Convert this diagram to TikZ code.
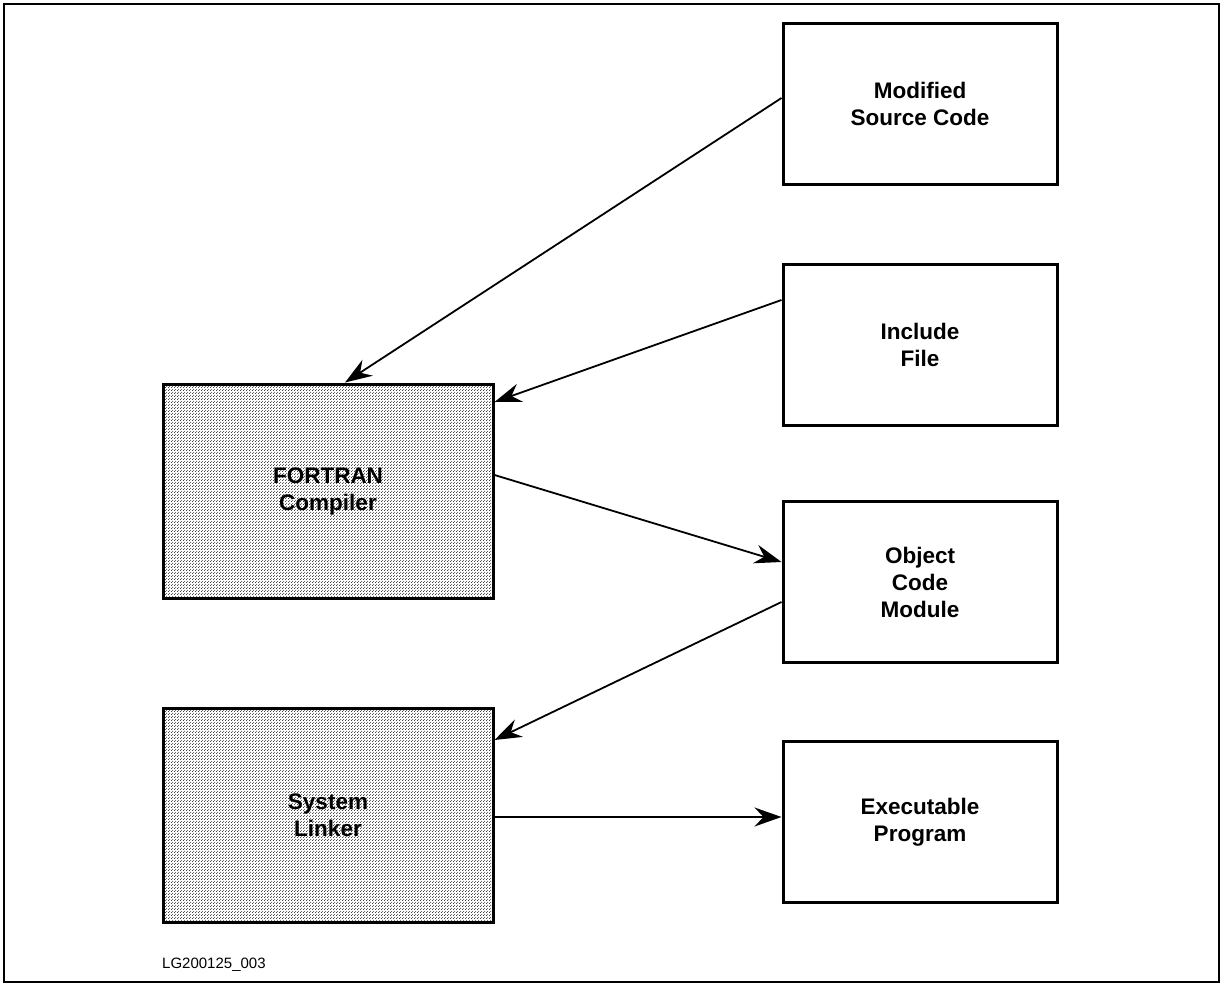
\documentclass[tikz,border=0pt]{standalone}
\usepackage{fontspec}
\setmainfont{Liberation Sans}
\usetikzlibrary{arrows.meta,patterns.meta}
% halftone-like dot screen for the shaded boxes
\tikzdeclarepattern{
  name=stipple,
  type=uncolored,
  bottom left={(0pt,0pt)},
  top right={(3pt,3pt)},
  tile size={(3pt,3pt)},
  code={
    \pgfpathcircle{\pgfpoint{0.75pt}{0.75pt}}{0.64pt}
    \pgfpathcircle{\pgfpoint{2.25pt}{2.25pt}}{0.64pt}
    \pgfusepath{fill}
  }
}
\begin{document}
\begin{tikzpicture}[x=1pt,y=-1pt,
  boxtext/.style={font=\bfseries\fontsize{22.5}{27}\selectfont,align=center,inner sep=0pt},
  filebox/.style={boxtext,draw=black,line width=3pt,fill=white,minimum width=274pt,minimum height=161pt},
  toolbox/.style={boxtext,draw=black,line width=3pt,fill=white,
    postaction={pattern=stipple,pattern color=black},minimum width=330pt,minimum height=214pt},
  flow/.style={line width=1.8pt,-{Stealth[length=27pt,width=19pt,inset=9pt]}}]
\useasboundingbox (0,0) rectangle (1224,988);
\draw[line width=2.6pt] (4,4) rectangle (1219,982);

% input and output files on the right
\node[filebox] (src) at (920,104) {Modified\\Source Code};
\node[filebox] (inc) at (920,345) {Include\\File};
\node[filebox] (obj) at (920,582) {Object\\Code\\Module};
\node[filebox] (exe) at (920,822) {Executable\\Program};

% tools on the left
\node[toolbox] (cmp) at (328,491) {FORTRAN\\Compiler};
\node[toolbox] (lnk) at (328,815) {System\\Linker};

% data flow
\draw[flow] (src.west |- 0,98) -- (cmp.north -| 345,0);
\draw[flow] (inc.west |- 0,300) -- (cmp.east |- 0,402);
\draw[flow] (cmp.east |- 0,475) -- (obj.west |- 0,562);
\draw[flow] (obj.west |- 0,602) -- (lnk.east |- 0,740);
\draw[flow] (lnk.east |- 0,817) -- (exe.west |- 0,817);

\node[anchor=base west,font=\fontsize{15}{18}\selectfont,inner sep=0pt] (tag) at (162,968) {LG200125\_003};
\end{tikzpicture}
\end{document}
